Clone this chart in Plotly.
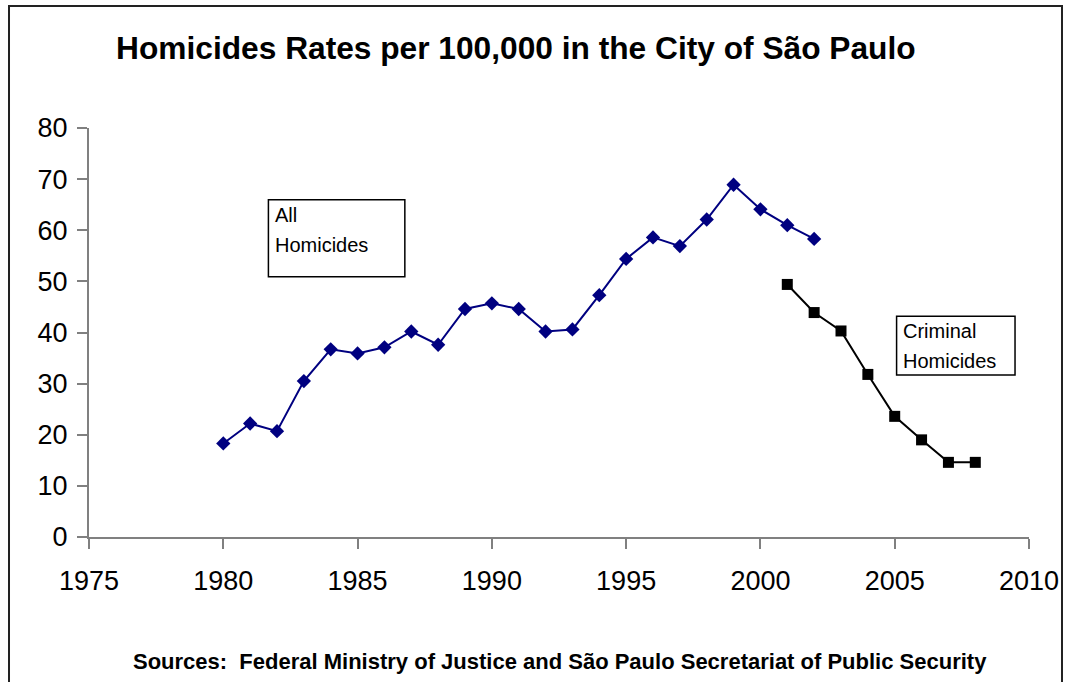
import plotly.graph_objects as go

# Homicide rates per 100,000 inhabitants, City of São Paulo
years_all = list(range(1980, 2003))
rate_all = [18.3, 22.2, 20.7, 30.5, 36.7, 35.9, 37.1, 40.2, 37.6, 44.6,
            45.7, 44.6, 40.2, 40.6, 47.3, 54.4, 58.6, 56.9, 62.1, 68.9,
            64.1, 61.0, 58.3]

years_criminal = list(range(2001, 2009))
rate_criminal = [49.4, 43.9, 40.3, 31.8, 23.6, 19.0, 14.6, 14.6]

x_ticks = [1975, 1980, 1985, 1990, 1995, 2000, 2005, 2010]
y_ticks = [0, 10, 20, 30, 40, 50, 60, 70, 80]

FONT = "Liberation Sans, Arial, sans-serif"
NAVY = "#000080"

fig = go.Figure()

fig.add_trace(go.Scatter(
    x=years_all, y=rate_all, mode="lines+markers", name="All Homicides",
    line=dict(color=NAVY, width=2),
    marker=dict(symbol="diamond", size=11, color=NAVY),
    showlegend=False,
))

fig.add_trace(go.Scatter(
    x=years_criminal, y=rate_criminal, mode="lines+markers",
    name="Criminal Homicides",
    line=dict(color="black", width=2),
    marker=dict(symbol="square", size=11, color="black"),
    showlegend=False,
))

# Series label boxes
fig.add_shape(type="rect", xref="x", yref="y",
              x0=1981.68, x1=1986.76, y0=50.9, y1=65.95,
              line=dict(color="black", width=1.5), fillcolor="white",
              layer="below")
fig.add_shape(type="rect", xref="x", yref="y",
              x0=2005.07, x1=2009.48, y0=31.7, y1=43.2,
              line=dict(color="black", width=1.5), fillcolor="white",
              layer="below")

label_font = dict(family=FONT, size=20, color="black")
for text, x, y in [("All", 1981.86, 63.0), ("Homicides", 1981.86, 57.1),
                   ("Criminal", 2005.22, 40.3), ("Homicides", 2005.22, 34.4)]:
    fig.add_annotation(x=x, y=y, xref="x", yref="y", text=text,
                       showarrow=False, xanchor="left", yanchor="middle",
                       font=label_font)

# Source note
fig.add_annotation(
    x=0.501, y=-0.3056, xref="paper", yref="paper",
    text="<b>Sources:  Federal Ministry of Justice and São Paulo Secretariat of Public Security</b>",
    showarrow=False, xanchor="center", yanchor="middle",
    font=dict(family=FONT, size=22, color="black"),
)

# Outer chart frame
fig.add_shape(type="rect", xref="paper", yref="paper",
              x0=-0.0851, x1=1.0351, y0=-0.37, y1=1.2983,
              line=dict(color="#222222", width=2), fillcolor="rgba(0,0,0,0)")

fig.update_layout(
    width=1068, height=682,
    margin=dict(l=89, r=39, t=128, b=145, autoexpand=False),
    paper_bgcolor="white", plot_bgcolor="white",
    title=dict(
        text="<b>Homicides Rates per 100,000 in the City of São Paulo</b>",
        x=0.483, xanchor="center", y=0.93, yanchor="middle",
        font=dict(family=FONT, size=31.7, color="black"),
    ),
    font=dict(family=FONT, color="black"),
)

fig.update_xaxes(
    range=[1975, 2010], tickvals=x_ticks, ticktext=[str(v) for v in x_ticks],
    showgrid=False, zeroline=False, showline=True, linecolor="#808080",
    linewidth=2, ticks="outside", ticklen=10, tickwidth=2, tickcolor="#808080",
    tickfont=dict(family=FONT, size=27, color="black"),
    ticklabelstandoff=9, automargin=False,
)
fig.update_yaxes(
    range=[0, 80], tickvals=y_ticks, ticktext=[str(v) for v in y_ticks],
    showgrid=False, zeroline=False, showline=True, linecolor="#808080",
    linewidth=2, ticks="outside", ticklen=10, tickwidth=2, tickcolor="#808080",
    tickfont=dict(family=FONT, size=27, color="black"),
    ticklabelstandoff=4, automargin=False,
)

fig.write_html("out.html")
